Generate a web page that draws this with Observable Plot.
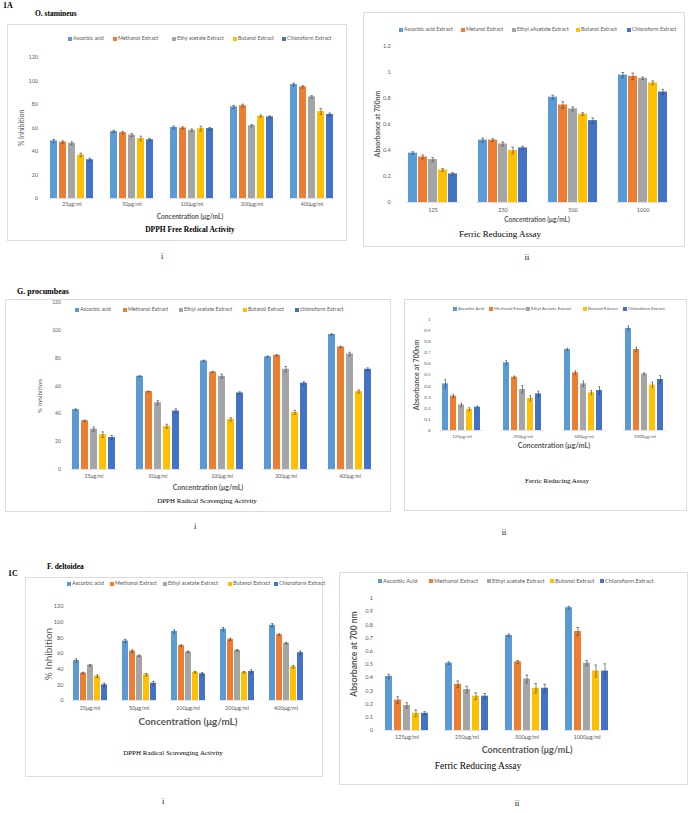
<!DOCTYPE html>
<html><head><meta charset="utf-8">
<script src="https://cdn.jsdelivr.net/npm/d3@7"></script>
<script src="https://cdn.jsdelivr.net/npm/@observablehq/plot@0.6"></script>
<style>
html,body{margin:0;padding:0;background:#fff;}
body{width:691px;height:813px;position:relative;overflow:hidden;font-family:Lato,"Noto Sans",sans-serif;}
.frame{position:absolute;border:1px solid #dcdcdc;box-sizing:border-box;}
.t{position:absolute;white-space:nowrap;line-height:1;}
.mk{position:absolute;width:3.5px;height:3.5px;}
</style></head>
<body>
<script>
const colors = ["#5B9BD5","#ED7D31","#A5A5A5","#FFC000","#4472C4"];

// ---------- 1A (O. stamineus) i : DPPH ----------
const A1_cats = ["25μg/ml","50μg/ml","100μg/ml","200μg/ml","400μg/ml"];
const A1_series = ["Ascorbic acid","Methanol Extract","Ethy acetate Extract","Butanol Extract","Chloroform Extract"];
const A1_values = [[49,48,47,37,33],[57,56,54,51,50],[60.5,60,58,59.5,59.5],[78,79,62,70,69.5],[97,95,86.5,74,71.5]];
const A1_errors = [[1.2,1,1.2,1.5,1.2],[1,1,1.2,2,1],[1.2,1,1.2,2,1],[1.2,1.2,1,1,0.8],[1.2,1,1,2.5,1.2]];
const A1_ticks = [0,20,40,60,80,100,120];

// ---------- 1A ii : Ferric reducing ----------
const A2_cats = ["125","250","500","1000"];
const A2_series = ["Ascorbic acid Extract","Metanol Extract","Ethyl aAcetate Extract","Butanol Extract","Chloroform Extract"];
const A2_values = [[0.38,0.35,0.33,0.25,0.22],[0.48,0.48,0.45,0.40,0.42],[0.81,0.75,0.72,0.68,0.63],[0.98,0.97,0.955,0.92,0.85]];
const A2_errors = [[0.01,0.015,0.015,0.01,0.01],[0.015,0.01,0.015,0.025,0.012],[0.015,0.025,0.015,0.01,0.02],[0.02,0.025,0.01,0.015,0.02]];
const A2_ticks = [0,0.2,0.4,0.6,0.8,1,1.2];

// ---------- G. procumbeas i : DPPH ----------
const G1_cats = ["25μg/ml","50μg/ml","100μg/ml","200μg/ml","400μg/ml"];
const G1_series = ["Ascorbic acid","Methanol Extract","Ethyl acetate Extract","Butanol Extract","chloroform Extract"];
const G1_values = [[43,35,29,25,23],[67,56,48,31,42],[78,70,67,36,55],[81,82,72,41,62],[97,88,83,56,72]];
const G1_errors = [[0.5,0.5,1.5,2,1.5],[0.3,0.3,1.5,1.5,1.5],[0.5,0.5,1.5,1.2,0.8],[0.5,0.5,2,1.5,1],[0.5,0.5,1.2,1.2,1]];
const G1_ticks = [0,20,40,60,80,100,120];

// ---------- G. procumbeas ii : Ferric reducing ----------
const G2_cats = ["125μg/ml","250μg/ml","500μg/ml","1000μg/ml"];
const G2_series = ["Ascorbic Acid","Methanol Extract","Ethyl Acetate Extract","Butanol Extract","Chloroform Extract"];
const G2_values = [[0.42,0.31,0.23,0.19,0.21],[0.61,0.48,0.37,0.29,0.33],[0.73,0.52,0.42,0.34,0.36],[0.92,0.73,0.51,0.41,0.46]];
const G2_errors = [[0.04,0.015,0.015,0.015,0.01],[0.02,0.01,0.035,0.025,0.025],[0.01,0.015,0.025,0.02,0.035],[0.02,0.02,0.01,0.025,0.035]];
const G2_ticks = [0,0.1,0.2,0.3,0.4,0.5,0.6,0.7,0.8,0.9,1];

// ---------- 1C (F. deltoidea) i : DPPH ----------
const C1_cats = ["25μg/ml","50μg/ml","100μg/ml","200μg/ml","400μg/ml"];
const C1_series = ["Ascorbic acid","Methanol Extract","Ethyl acetate  Extract","Butanol Extract","Chloroform Extract"];
const C1_values = [[51,35,45,31,20],[76,63,57,33,22],[88,70,62,36,34],[91,78,64,36,37],[96,84,73,43,61]];
const C1_errors = [[2,1,1,1.5,2],[2,1.5,1,1.5,2.5],[2,1,1,1,1.5],[2,1.5,1,1,2],[2,1,1,1.5,2]];
const C1_ticks = [0,20,40,60,80,100,120];

// ---------- 1C ii : Ferric reducing ----------
const C2_cats = ["125μg/ml","250μg/ml","500μg/ml","1000μg/ml"];
const C2_series = ["Ascorbic Acid","Methanol Extract","Ethyl acetate Extract","Butanol Extract","Chloroform Extract"];
const C2_values = [[0.41,0.23,0.19,0.13,0.13],[0.51,0.35,0.31,0.26,0.26],[0.72,0.52,0.39,0.32,0.32],[0.93,0.75,0.51,0.45,0.45]];
const C2_errors = [[0.015,0.025,0.02,0.025,0.012],[0.01,0.025,0.025,0.025,0.02],[0.01,0.01,0.03,0.035,0.03],[0.01,0.03,0.02,0.045,0.055]];
const C2_ticks = [0,0.1,0.2,0.3,0.4,0.5,0.6,0.7,0.8,0.9,1];

// ---------- helpers ----------
const body = document.body;
function txt(s, x, y, o = {}) {
  const d = document.createElement("div");
  d.className = "t";
  d.textContent = s;
  d.style.left = x + "px";
  d.style.top = y + "px";
  d.style.fontSize = (o.size || 7) + "px";
  d.style.fontFamily = o.serif ? '"Liberation Serif","Times New Roman",serif' : 'Lato,"Noto Sans",sans-serif';
  d.style.fontWeight = o.weight || 400;
  d.style.color = o.color || "#000";
  const tx = o.anchor === "start" ? "0" : "-50%";
  d.style.transform = `translate(${tx},-50%)` + (o.rotate ? " rotate(-90deg)" : "");
  body.appendChild(d);
  return d;
}
function frame(f) {
  const d = document.createElement("div");
  d.className = "frame";
  Object.assign(d.style, {left: f.L + "px", top: f.T + "px", width: (f.R - f.L) + "px", height: (f.B - f.T) + "px"});
  body.appendChild(d);
}
function legend(series, xs, y, size) {
  series.forEach((s, i) => {
    const m = document.createElement("div");
    m.className = "mk";
    m.style.background = colors[i];
    m.style.left = xs[i] + "px";
    m.style.top = (y - 1.75) + "px";
    body.appendChild(m);
    txt(s, xs[i] + 5, y, {size, anchor: "start", color: "#595959"});
  });
}

function panel(cfg, cats, series, values, errors, ticks, yMax) {
  frame(cfg.f);
  const data = cats.flatMap((c, i) => series.map((s, j) => ({cat: c, series: s, value: values[i][j], err: errors[i][j]})));
  const fxDomain = cfg.blank ? [...cats, " "] : cats;
  const n = fxDomain.length;
  const step = (cfg.axisR - cfg.axisL) / n;
  const facetLeft = cfg.axisL + step * cfg.fxPad / 2;
  const groupW = step * (1 - cfg.fxPad);
  const bw = groupW / (series.length - cfg.xPad) * (1 - cfg.xPad);
  const capInset = Math.max(0, (bw - (cfg.cap || 3)) / 2);
  const W = cfg.f.R - cfg.f.L, H = cfg.f.B - cfg.f.T;
  const errStroke = "#3a3a3a";
  const marks = (superOK) => [
    superOK ? Plot.ruleY([0], {stroke: "#d9d9d9", strokeWidth: 0.8, facet: "super"}) : Plot.ruleY([0], {stroke: "#d9d9d9", strokeWidth: 0.8}),
    Plot.axisY({ticks, tickSize: 0, tickPadding: facetLeft - cfg.labelRight, fontSize: cfg.tickFont, fill: "#595959",
      tickFormat: d => String(d), label: null}),
    Plot.axisFx({anchor: "bottom", tickSize: 0, tickPadding: cfg.xTickPad, fontSize: cfg.tickFont, fill: "#595959", label: null}),
    Plot.barY(data, {fx: "cat", x: "series", y: "value", fill: "series"}),
    Plot.ruleX(data, {fx: "cat", x: "series", y1: d => d.value - d.err, y2: d => d.value + d.err, stroke: errStroke, strokeWidth: 0.6}),
    Plot.tickY(data, {fx: "cat", x: "series", y: d => d.value + d.err, insetLeft: capInset, insetRight: capInset, stroke: errStroke, strokeWidth: 0.6}),
    Plot.tickY(data, {fx: "cat", x: "series", y: d => d.value - d.err, insetLeft: capInset, insetRight: capInset, stroke: errStroke, strokeWidth: 0.6})
  ];
  const opts = (superOK) => ({
    width: W, height: H,
    marginLeft: cfg.axisL - cfg.f.L, marginRight: cfg.f.R - cfg.axisR,
    marginTop: cfg.yTop - cfg.f.T, marginBottom: cfg.f.B - cfg.y0,
    style: {background: "transparent", fontFamily: 'Lato,"Noto Sans",sans-serif', overflow: "visible"},
    fx: {domain: fxDomain, paddingInner: cfg.fxPad, paddingOuter: cfg.fxPad / 2, label: null},
    x: {domain: series, paddingInner: cfg.xPad, paddingOuter: 0, axis: null},
    y: {domain: [0, yMax], label: null},
    color: {domain: series, range: colors},
    marks: marks(superOK)
  });
  let chart;
  try { chart = Plot.plot(opts(true)); } catch (e) { chart = Plot.plot(opts(false)); }
  chart.style.position = "absolute";
  chart.style.left = cfg.f.L + "px";
  chart.style.top = cfg.f.T + "px";
  body.appendChild(chart);
}

// ---------- layout ----------
const P1 = {f: {L: 7, T: 24, R: 347, B: 241}, axisL: 39, axisR: 343, y0: 198, yTop: 57, labelRight: 35, fxPad: 0.25, xPad: 0.18, tickFont: 5.2, xTickPad: 4};
const P2 = {f: {L: 363, T: 12, R: 685, B: 247}, axisL: 397, axisR: 678, y0: 202, yTop: 46, labelRight: 390, fxPad: 0.25, xPad: 0.12, tickFont: 5.5, xTickPad: 6};
const P3 = {f: {L: 5, T: 299, R: 391, B: 512}, axisL: 61, axisR: 381, y0: 469, yTop: 302, labelRight: 60, fxPad: 0.27, xPad: 0.2, tickFont: 5, xTickPad: 4.5};
const P4 = {f: {L: 404, T: 299, R: 687, B: 511}, axisL: 431, axisR: 676, y0: 430, yTop: 319, labelRight: 430, fxPad: 0.29, xPad: 0.22, tickFont: 4.5, xTickPad: 4, cap: 2.5};
const P5 = {f: {L: 25, T: 577, R: 323, B: 777}, axisL: 65, axisR: 310, y0: 700, yTop: 606, labelRight: 63, fxPad: 0.29, xPad: 0.18, tickFont: 5.5, xTickPad: 6, cap: 2.5};
const P6 = {f: {L: 339, T: 572, R: 688, B: 785}, axisL: 374, axisR: 678, y0: 730, yTop: 598, labelRight: 370, fxPad: 0.25, xPad: 0.2, tickFont: 5.5, xTickPad: 4.5, blank: true};

panel(P1, A1_cats, A1_series, A1_values, A1_errors, A1_ticks, 120);
panel(P2, A2_cats, A2_series, A2_values, A2_errors, A2_ticks, 1.2);
panel(P3, G1_cats, G1_series, G1_values, G1_errors, G1_ticks, 120);
panel(P4, G2_cats, G2_series, G2_values, G2_errors, G2_ticks, 1);
panel(P5, C1_cats, C1_series, C1_values, C1_errors, C1_ticks, 120);
panel(P6, C2_cats, C2_series, C2_values, C2_errors, C2_ticks, 1);

// legends
legend(A1_series, [68, 113, 172, 233, 282], 39, 5.3);
legend(A2_series, [399, 461, 512, 576, 627], 30, 5.3);
legend(G1_series, [75, 123, 179, 243, 295], 310, 5.3);
legend(G2_series, [453, 489, 526, 583, 623], 309, 4.4);
legend(C1_series, [67, 110, 163, 228, 274], 584, 5.5);
legend(C2_series, [378, 429, 487, 550, 600], 581, 5.8);

// axis titles & chart titles
const grey = "#595959";
txt("% Inhibition", 21, 128, {size: 7, color: grey, rotate: true});
txt("Concentration (μg/mL)", 190, 216, {size: 6.6, weight: 700, color: grey});
txt("DPPH Free Redical Activity", 190, 230, {size: 7.5, weight: 700, serif: true});

txt("Absorbance at 700nm", 377, 124, {size: 6.8, weight: 700, color: grey, rotate: true});
txt("Concentration (μg/mL)", 537, 220, {size: 6.5, weight: 700, color: grey});
txt("Ferric Reducing Assay", 500, 234, {size: 9, serif: true});

txt("% Inhibition", 40, 396, {size: 6.5, color: grey, rotate: true});
txt("Concentration (μg/mL)", 208, 487, {size: 7, weight: 700, color: grey});
txt("DPPH Radical Scavenging Activity", 207, 501, {size: 7, serif: true});

txt("Absorbance at 700nm", 417, 375, {size: 7.2, weight: 700, color: grey, rotate: true});
txt("Concentration (μg/mL)", 554, 446, {size: 7.2, weight: 700, color: grey});
txt("Ferric Reducing Assay", 557, 481, {size: 7, serif: true});

txt("% Inhibition", 48, 654, {size: 10, color: grey, rotate: true});
txt("Concentration (μg/mL)", 188, 722, {size: 9.8, weight: 700, color: grey});
txt("DPPH Radical Scavenging Activity", 173, 753, {size: 7, serif: true});

txt("Absorbance at 700 nm", 354, 654, {size: 8.5, weight: 700, color: grey, rotate: true});
txt("Concentration (μg/mL)", 527, 749, {size: 9, weight: 700, color: grey});
txt("Ferric Reducing Assay", 478, 767, {size: 9.5, serif: true});

// figure labels
txt("1A", 3, 6, {size: 8, weight: 700, serif: true, anchor: "start"});
txt("O. stamineus", 35, 14, {size: 7.5, weight: 700, serif: true, anchor: "start"});
txt("i", 162, 257, {size: 8, serif: true});
txt("ii", 527, 258, {size: 8, serif: true});
txt("G. procumbeas", 17, 292, {size: 8, weight: 700, serif: true, anchor: "start"});
txt("i", 195, 527, {size: 8, serif: true});
txt("ii", 504, 533, {size: 8, serif: true});
txt("1C", 8, 574, {size: 8, weight: 700, serif: true, anchor: "start"});
txt("F. deltoidea", 47, 567, {size: 7.5, weight: 700, serif: true, anchor: "start"});
txt("i", 163, 802, {size: 8, serif: true});
txt("ii", 517, 804, {size: 8, serif: true});
</script>
</body></html>
